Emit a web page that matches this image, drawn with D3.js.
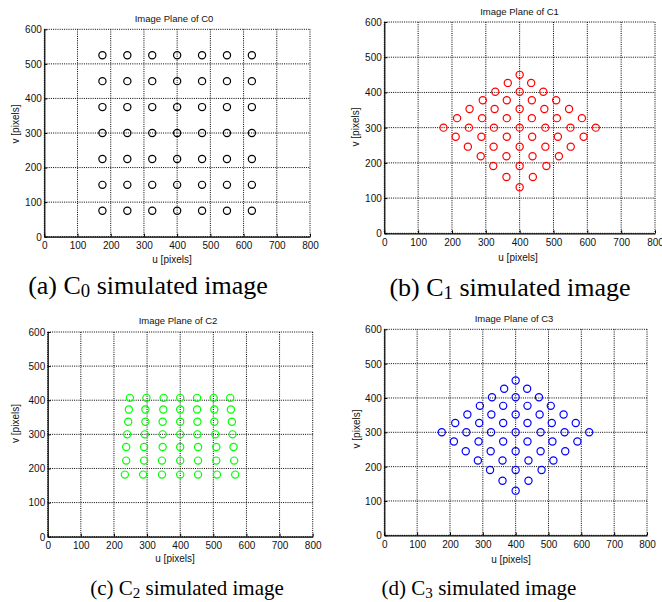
<!DOCTYPE html>
<html>
<head>
<meta charset="utf-8">
<script src="https://cdn.jsdelivr.net/npm/d3@7/dist/d3.min.js"></script>
<style>
  html, body { margin: 0; padding: 0; background: #fff; }
  svg { display: block; }
</style>
</head>
<body>
<svg id="chart" width="662" height="602"></svg>
<script>
// ---------------- DATA ----------------
const uTicks = [0, 100, 200, 300, 400, 500, 600, 700, 800];
const vTicks = [0, 100, 200, 300, 400, 500, 600];
const uDomain = [0, 800];
const vDomain = [0, 600];

const titles = ["Image Plane of C0", "Image Plane of C1", "Image Plane of C2", "Image Plane of C3"];
const captionLetters = ["a", "b", "c", "d"];
const captionSubs = ["0", "1", "2", "3"];
const captionTail = " simulated image";
const xLabel = "u [pixels]";
const yLabel = "v [pixels]";

// C0: regular grid of points [u, v]
const c0Points = [
  [175,525],[250,525],[325,525],[400,525],[475,525],[550,525],[625,525],
  [175,450],[250,450],[325,450],[400,450],[475,450],[550,450],[625,450],
  [175,375],[250,375],[325,375],[400,375],[475,375],[550,375],[625,375],
  [175,300],[250,300],[325,300],[400,300],[475,300],[550,300],[625,300],
  [175,225],[250,225],[325,225],[400,225],[475,225],[550,225],[625,225],
  [175,150],[250,150],[325,150],[400,150],[475,150],[550,150],[625,150],
  [175,75],[250,75],[325,75],[400,75],[475,75],[550,75],[625,75]
];

// C1: diamond pattern
const c1Points = [
  [400,450],
  [365,427],[434,427],
  [328,402],[400,402],[470,402],
  [291,378],[362,378],[436,378],[508,378],
  [252,353],[326,353],[400,353],[473,353],[546,353],
  [215,327],[289,327],[362,327],[436,327],[510,327],[584,327],
  [175,300],[250,300],[324,300],[400,300],[476,300],[550,300],[625,300],
  [211,274],[287,274],[362,274],[437,274],[513,274],[589,274],
  [247,246],[323,246],[400,246],[476,246],[551,246],
  [285,219],[361,219],[438,219],[516,219],
  [322,191],[400,191],[479,191],
  [361,160],[439,160],
  [400,131]
];

// C2: trapezoid pattern
const c2Points = [
  [248,407],[298,407],[350,407],[400,407],[451,407],[501,407],[551,407],
  [245,373],[295,373],[349,373],[400,373],[451,373],[503,373],[553,373],
  [243,337],[295,337],[347,337],[400,337],[452,337],[503,337],[556,337],
  [240,300],[293,300],[347,300],[400,300],[452,300],[506,300],[558,300],
  [237,263],[291,263],[347,263],[400,263],[454,263],[509,263],[561,263],
  [237,223],[291,223],[345,223],[400,223],[454,223],[509,223],[563,223],
  [233,182],[288,182],[345,182],[400,182],[454,182],[511,182],[566,182]
];

// C3: diamond pattern
const c3Points = [
  [400,451],
  [365,427],[435,427],
  [328,402],[400,402],[471,402],
  [291,377],[362,377],[436,377],[507,377],
  [253,352],[326,352],[400,352],[473,352],[546,352],
  [216,327],[289,327],[362,327],[436,327],[510,327],[583,327],
  [175,300],[250,300],[325,300],[400,300],[476,300],[549,300],[624,300],
  [212,273],[287,273],[362,273],[436,273],[512,273],[588,273],
  [248,245],[324,245],[400,245],[476,245],[551,245],
  [285,218],[360,218],[439,218],[515,218],
  [322,190],[400,190],[479,190],
  [360,159],[439,159],
  [400,130]
];

// ---------------- LAYOUT ----------------
const panels = [
  {pts: c0Points, color: "#000000", x0: 44.3, x1: 310, yT: 29.3, yB: 236.7,
   titleX: 174, titleY: 21.5, ylabX: 18.5, ylabY: 124, xlabX: 172, xlabY: 262.5,
   capX: 148, capY: 294, capSize: 26},
  {pts: c1Points, color: "#ff0000", x0: 384.3, x1: 655, yT: 22, yB: 233.3,
   titleX: 519.5, titleY: 15, ylabX: 358.5, ylabY: 127, xlabX: 518, xlabY: 261,
   capX: 510, capY: 295.5, capSize: 26},
  {pts: c2Points, color: "#00ff00", x0: 47.7, x1: 312.7, yT: 332, yB: 536.7,
   titleX: 178, titleY: 324, ylabX: 18.5, ylabY: 423.5, xlabX: 175, xlabY: 562,
   capX: 187, capY: 595, capSize: 21},
  {pts: c3Points, color: "#0000ff", x0: 384.3, x1: 647, yT: 329.3, yB: 535.3,
   titleX: 514, titleY: 321.5, ylabX: 359.5, ylabY: 429, xlabX: 511, xlabY: 563,
   capX: 479, capY: 595, capSize: 21}
];

const svg = d3.select("#chart");
svg.append("rect").attr("width", 662).attr("height", 602).attr("fill", "#fff");

const sans = "'Liberation Sans', Arial, sans-serif";
const serif = "'Liberation Serif', 'Times New Roman', serif";

panels.forEach((p, i) => {
  const x = d3.scaleLinear().domain(uDomain).range([p.x0, p.x1]);
  const y = d3.scaleLinear().domain(vDomain).range([p.yB, p.yT]);
  const g = svg.append("g");

  // grid (dotted)
  const grid = g.append("g")
    .attr("stroke", "#000").attr("stroke-width", 1)
    .attr("stroke-dasharray", "1 1.2").attr("fill", "none");
  uTicks.forEach(t => {
    grid.append("line").attr("x1", x(t)).attr("x2", x(t)).attr("y1", y(600)).attr("y2", y(0));
  });
  vTicks.forEach(t => {
    grid.append("line").attr("x1", x(0)).attr("x2", x(800)).attr("y1", y(t)).attr("y2", y(t));
  });

  // axes (bottom and left, inward ticks)
  const xAxis = d3.axisBottom(x).tickValues(uTicks).tickSizeInner(-3).tickSizeOuter(0).tickPadding(6);
  const yAxis = d3.axisLeft(y).tickValues(vTicks).tickSizeInner(-3).tickSizeOuter(0).tickPadding(5);
  const gx = g.append("g").attr("transform", `translate(0,${p.yB})`).call(xAxis);
  const gy = g.append("g").attr("transform", `translate(${p.x0},0)`).call(yAxis);
  [gx, gy].forEach(ax => {
    ax.select(".domain").attr("stroke", "#000").attr("stroke-width", 1.2);
    ax.selectAll(".tick line").attr("stroke", "#000").attr("stroke-width", 1);
    ax.selectAll(".tick text").attr("font-family", sans).attr("font-size", 10).attr("fill", "#111");
  });
  gx.selectAll(".tick text").attr("dy", null).attr("y", 12.8);
  gy.selectAll(".tick text").attr("dy", "0.34em").attr("x", -2.5);

  // markers
  g.append("g").selectAll("circle").data(p.pts).join("circle")
    .attr("cx", d => x(d[0])).attr("cy", d => y(d[1])).attr("r", 3.6)
    .attr("fill", "none").attr("stroke", p.color).attr("stroke-width", 1.2);

  // title
  g.append("text").attr("x", p.titleX).attr("y", p.titleY)
    .attr("text-anchor", "middle").attr("font-family", sans).attr("font-size", 9.5)
    .attr("fill", "#111").text(titles[i]);

  // axis labels
  g.append("text").attr("x", p.xlabX).attr("y", p.xlabY)
    .attr("text-anchor", "middle").attr("font-family", sans).attr("font-size", 10)
    .attr("fill", "#111").text(xLabel);
  g.append("text").attr("transform", `translate(${p.ylabX},${p.ylabY}) rotate(-90)`)
    .attr("text-anchor", "middle").attr("font-family", sans).attr("font-size", 10)
    .attr("fill", "#111").text(yLabel);

  // caption
  const cap = svg.append("text").attr("x", p.capX).attr("y", p.capY)
    .attr("text-anchor", "middle").attr("font-family", serif).attr("font-size", p.capSize)
    .attr("fill", "#000");
  cap.append("tspan").text(`(${captionLetters[i]}) C`);
  cap.append("tspan").attr("font-size", p.capSize * 0.72).attr("dy", p.capSize * 0.12).text(captionSubs[i]);
  cap.append("tspan").attr("dy", -p.capSize * 0.12).text(captionTail);
});
</script>
</body>
</html>
